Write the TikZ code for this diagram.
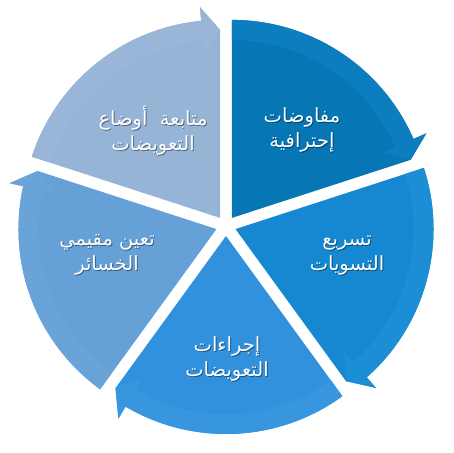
\documentclass[tikz,border=0pt]{standalone}
\usepackage{fontspec}
\newfontfamily\arabicfont[Script=Arabic]{DejaVu Sans}
\TeXXeTstate=1
\definecolor{cA}{HTML}{0776B5}
\definecolor{cAb}{HTML}{0C7EC0}
\definecolor{cB}{HTML}{1588D1}
\definecolor{cBb}{HTML}{1C8ED6}
\definecolor{cC}{HTML}{3291DC}
\definecolor{cCb}{HTML}{3896DF}
\definecolor{cD}{HTML}{65A0D6}
\definecolor{cDb}{HTML}{6AA3D8}
\definecolor{cE}{HTML}{96B4D6}
\definecolor{cEb}{HTML}{99B6D8}
\tikzset{
  lbl/.style={align=center,text=white,font=\arabicfont\fontsize{19.5}{25}\selectfont},
  lblsh/.style={align=center,text=black,opacity=0.4,font=\arabicfont\fontsize{19.5}{25}\selectfont},
}
\newcommand\myseg[4]{% start angle, bisector, main colour, band colour
  \begin{scope}[shift={(#2:10)}]
    \pgfmathsetmacro\ea{#1-72}
    \pgfmathsetmacro\eb{#1-72+5.5}
    \fill[#3] (0,0) -- (#1:198) arc[start angle=#1,end angle=\eb,radius=198]
      -- (\eb:212) -- (\ea:188) -- cycle;
    \fill[#4] (#1:198) arc[start angle=#1,end angle=\eb,radius=198]
      -- (\eb:212) -- (\ea:188) -- (\eb:164) -- (\eb:178)
      arc[start angle=\eb,end angle=#1,radius=178] -- cycle;
  \end{scope}}
\begin{document}
\begin{tikzpicture}[x=1pt,y=1pt]
\useasboundingbox (-226,-227) rectangle (227,226);
\myseg{90}{54}{cA}{cAb}
\myseg{18}{-18}{cB}{cBb}
\myseg{-54}{-90}{cC}{cCb}
\myseg{-126}{-162}{cD}{cDb}
\myseg{162}{126}{cE}{cEb}
% labels
\node[lblsh] (s1) at (77,95) {\beginR مفاوضات\endR\\\beginR إحترافية\endR};
\node[lbl] (t1) at (76,96) {\beginR مفاوضات\endR\\\beginR إحترافية\endR};
\node[lblsh] (s2) at (122,-31) {\beginR تسريع\endR\\\beginR التسويات\endR};
\node[lbl] (t2) at (121,-30) {\beginR تسريع\endR\\\beginR التسويات\endR};
\node[lblsh] (s3) at (2,-134) {\beginR إجراءات\endR\\\beginR التعويضات\endR};
\node[lbl] (t3) at (1,-133) {\beginR إجراءات\endR\\\beginR التعويضات\endR};
\node[lblsh] (s4) at (-118,-30) {\beginR تعين مقيمي\endR\\\beginR الخسائر\endR};
\node[lbl] (t4) at (-119,-29) {\beginR تعين مقيمي\endR\\\beginR الخسائر\endR};
\node[lblsh] (s5) at (-72,94) {\beginR متابعة\ \ أوضاع\endR\\\beginR التعويضات\endR};
\node[lbl] (t5) at (-73,95) {\beginR متابعة\ \ أوضاع\endR\\\beginR التعويضات\endR};
\end{tikzpicture}
\end{document}
